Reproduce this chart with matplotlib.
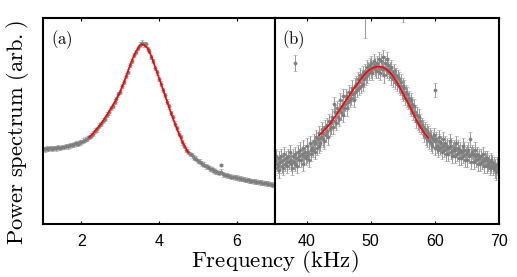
import numpy as np
import matplotlib
matplotlib.use("Agg")
import matplotlib.pyplot as plt

plt.rcParams['mathtext.fontset'] = 'cm'
plt.rcParams['font.family'] = ['Liberation Sans', 'DejaVu Sans']

# ---------------- panel (a) data (kHz, arb. units) ----------------
freq_a = np.round(np.arange(1.0, 6.96, 0.05), 2)
power_a = [
    0.364, 0.362, 0.366, 0.363, 0.367, 0.365, 0.369, 0.366, 0.371, 0.369,
    0.374, 0.372, 0.377, 0.376, 0.381, 0.383, 0.386, 0.390, 0.389, 0.396,
    0.398, 0.404, 0.409, 0.413, 0.421, 0.428, 0.437, 0.452, 0.458, 0.476,
    0.484, 0.501, 0.508, 0.530, 0.540, 0.561, 0.571, 0.592, 0.603, 0.628,
    0.640, 0.668, 0.688, 0.719, 0.738, 0.771, 0.790, 0.818, 0.832, 0.853,
    0.868, 0.878, 0.870, 0.872, 0.848, 0.838, 0.808, 0.789, 0.755, 0.735,
    0.703, 0.680, 0.648, 0.624, 0.592, 0.570, 0.538, 0.516, 0.486, 0.466,
    0.438, 0.420, 0.396, 0.380, 0.360, 0.350, 0.338, 0.332, 0.322, 0.316,
    0.306, 0.302, 0.292, 0.288, 0.279, 0.275, 0.268, 0.265, 0.259, 0.255,
    0.252, 0.246, 0.254, 0.240, 0.238, 0.236, 0.232, 0.230, 0.228, 0.226,
    0.224, 0.221, 0.220, 0.217, 0.215, 0.213, 0.212, 0.209, 0.208, 0.206,
    0.205, 0.203, 0.202, 0.200, 0.199, 0.197, 0.195, 0.193, 0.191, 0.189,
]
err_a = 0.011
outlier_freq_a = [5.59]
outlier_power_a = [0.286]

fit_freq_a = [2.2, 2.3, 2.4, 2.5, 2.6, 2.7, 2.8, 2.9, 3.0, 3.1, 3.2, 3.3, 3.4,
              3.5, 3.55, 3.6, 3.7, 3.8, 3.9, 4.0, 4.1, 4.2, 4.3, 4.4, 4.5,
              4.6, 4.7, 4.75]
fit_power_a = [0.420, 0.440, 0.462, 0.485, 0.512, 0.542, 0.573, 0.606, 0.643,
               0.690, 0.742, 0.793, 0.835, 0.864, 0.870, 0.868, 0.852, 0.812,
               0.758, 0.705, 0.650, 0.595, 0.540, 0.488, 0.440, 0.398, 0.362,
               0.347]

# ---------------- panel (b) data ----------------
freq_b = np.round(np.arange(35.0, 70.01, 0.125), 3)
power_b = [
    0.31, 0.27, 0.33, 0.29, 0.28, 0.32, 0.26, 0.30,   # 35
    0.33, 0.28, 0.31, 0.27, 0.34, 0.29, 0.32, 0.30,   # 36
    0.28, 0.33, 0.30, 0.35, 0.29, 0.31, 0.27, 0.33,   # 37
    0.30, 0.34, 0.29, 0.32, 0.28, 0.35, 0.31, 0.33,   # 38
    0.36, 0.31, 0.34, 0.29, 0.37, 0.33, 0.35, 0.32,   # 39
    0.33, 0.38, 0.35, 0.31, 0.39, 0.36, 0.34, 0.37,   # 40
    0.36, 0.40, 0.35, 0.39, 0.42, 0.37, 0.41, 0.38,   # 41
    0.44, 0.39, 0.42, 0.46, 0.41, 0.44, 0.40, 0.47,   # 42
    0.43, 0.48, 0.45, 0.42, 0.50, 0.46, 0.49, 0.47,   # 43
    0.52, 0.47, 0.58, 0.50, 0.54, 0.49, 0.56, 0.52,   # 44
    0.55, 0.51, 0.60, 0.54, 0.57, 0.53, 0.62, 0.56,   # 45
    0.58, 0.62, 0.56, 0.61, 0.59, 0.64, 0.60, 0.63,   # 46
    0.61, 0.66, 0.63, 0.60, 0.67, 0.64, 0.68, 0.65,   # 47
    0.70, 0.66, 0.69, 0.72, 0.67, 0.71, 0.68, 0.73,   # 48
    0.70, 0.74, 0.71, 0.76, 0.72, 0.75, 0.73, 0.77,   # 49
    0.74, 0.78, 0.73, 0.76, 0.79, 0.75, 0.77, 0.74,   # 50
    0.78, 0.74, 0.80, 0.76, 0.73, 0.79, 0.75, 0.81,   # 51
    0.76, 0.72, 0.78, 0.75, 0.80, 0.74, 0.77, 0.73,   # 52
    0.75, 0.71, 0.76, 0.73, 0.70, 0.74, 0.72, 0.69,   # 53
    0.72, 0.68, 0.71, 0.67, 0.70, 0.66, 0.69, 0.64,   # 54
    0.67, 0.63, 0.66, 0.61, 0.64, 0.60, 0.63, 0.59,   # 55
    0.61, 0.57, 0.60, 0.56, 0.58, 0.54, 0.57, 0.53,   # 56
    0.54, 0.50, 0.53, 0.49, 0.52, 0.48, 0.50, 0.47,   # 57
    0.48, 0.45, 0.47, 0.43, 0.46, 0.42, 0.45, 0.41,   # 58
    0.44, 0.40, 0.43, 0.39, 0.42, 0.38, 0.41, 0.43,   # 59
    0.40, 0.37, 0.41, 0.38, 0.36, 0.40, 0.42, 0.37,   # 60
    0.39, 0.35, 0.38, 0.41, 0.36, 0.39, 0.34, 0.37,   # 61
    0.38, 0.34, 0.37, 0.40, 0.35, 0.38, 0.33, 0.36,   # 62
    0.37, 0.33, 0.36, 0.39, 0.34, 0.37, 0.32, 0.35,   # 63
    0.36, 0.32, 0.35, 0.38, 0.33, 0.36, 0.31, 0.34,   # 64
    0.35, 0.31, 0.36, 0.33, 0.41, 0.34, 0.30, 0.35,   # 65
    0.34, 0.30, 0.33, 0.36, 0.31, 0.34, 0.29, 0.33,   # 66
    0.32, 0.29, 0.33, 0.30, 0.34, 0.31, 0.28, 0.32,   # 67
    0.31, 0.28, 0.32, 0.29, 0.30, 0.27, 0.31, 0.28,   # 68
    0.30, 0.27, 0.29, 0.26, 0.28, 0.25, 0.29, 0.27,   # 69
    0.27,                                              # 70
]
err_b = 0.035
outlier_freq_b = [38.2, 49.1, 55.0, 60.1]
outlier_power_b = [0.78, 1.03, 1.04, 0.65]
outlier_err_b = [0.04, 0.13, 0.06, 0.034]

fit_freq_b = [42.0, 42.5, 43.0, 43.5, 44.0, 44.5, 45.0, 45.5, 46.0, 46.5,
              47.0, 47.5, 48.0, 48.5, 49.0, 49.5, 50.0, 50.5, 51.0, 51.5,
              52.0, 52.5, 53.0, 53.5, 54.0, 54.5, 55.0, 55.5, 56.0, 56.5,
              57.0, 57.5, 58.0, 58.5, 59.0]
fit_power_b = [0.430, 0.445, 0.462, 0.480, 0.500, 0.522, 0.545, 0.568, 0.592,
               0.615, 0.638, 0.661, 0.682, 0.703, 0.722, 0.738, 0.750, 0.758,
               0.762, 0.762, 0.757, 0.748, 0.735, 0.716, 0.692, 0.665, 0.636,
               0.606, 0.576, 0.544, 0.512, 0.484, 0.458, 0.436, 0.418]

xticks_a = [2, 4, 6]
xticks_b = [40, 50, 60, 70]

# ---------------- figure ----------------
fig = plt.figure(figsize=(5.17, 2.77), dpi=100)
left, right, bottom, top = 0.0825, 0.9646, 0.1913, 0.9368
mid = 0.531
axa = fig.add_axes([left, bottom, mid - left, top - bottom])
axb = fig.add_axes([mid, bottom, right - mid, top - bottom])

pt_color = '#7f7f7f'
err_color = '#999999'
kw = dict(fmt='o', ms=2.3, color=pt_color, ecolor=err_color, elinewidth=0.7,
          capsize=1.2, capthick=0.6, mew=0.4, mfc=pt_color, zorder=2)

axa.errorbar(freq_a, power_a, yerr=err_a, **kw)
axa.errorbar(outlier_freq_a, outlier_power_a, yerr=0.006, **kw)
axa.plot(fit_freq_a, fit_power_a, color='red', lw=1.2, zorder=3)

axb.errorbar(freq_b, power_b, yerr=err_b, **kw)
axb.errorbar(outlier_freq_b, outlier_power_b, yerr=outlier_err_b, **kw)
axb.plot(fit_freq_b, fit_power_b, color='red', lw=1.2, zorder=3)

axa.set_xlim(1.0, 6.97)
axb.set_xlim(35, 70)
for ax, ticks, lab in ((axa, xticks_a, '(a)'), (axb, xticks_b, '(b)')):
    ax.set_ylim(0, 1)
    ax.set_xticks(ticks)
    ax.set_yticks([])
    ax.tick_params(axis='x', direction='in', top=True, length=2.5, width=0.8,
                   labelsize=11.5, pad=7)
    for s in ax.spines.values():
        s.set_linewidth(1.5)
    ax.text(0.035, 0.95, r'$\mathrm{' + lab + '}$', transform=ax.transAxes,
            ha='left', va='top', fontsize=12)

fig.text(mid, 0.008, r'$\mathrm{Frequency\ (kHz)}$', ha='center', va='bottom',
         fontsize=16.5)
fig.text(0.033, 0.52, r'$\mathrm{Power\ spectrum\ (arb.)}$',
         rotation=90, ha='center', va='center', fontsize=16.2)

fig.savefig('out.png', dpi=100)
